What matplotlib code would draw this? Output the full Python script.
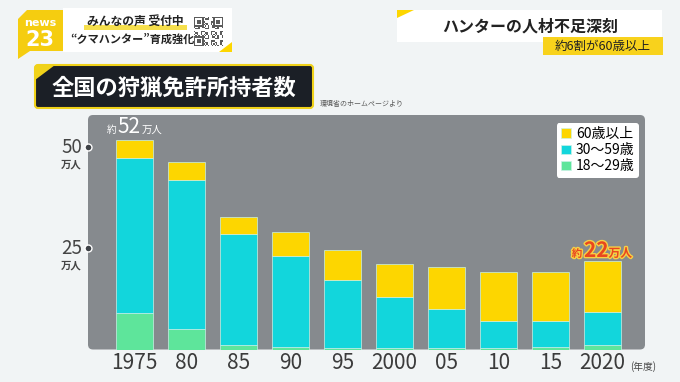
import numpy as np
import matplotlib.pyplot as plt
from matplotlib import transforms
from matplotlib.patches import FancyBboxPatch, Polygon, Rectangle
import matplotlib.patheffects as pe

plt.rcParams["font.family"] = ["Noto Sans CJK JP", "DejaVu Sans"]

# data (万人)
years = ["1975", "80", "85", "90", "95", "2000", "05", "10", "15", "2020"]
age_18_29 = [9.1, 5.0, 1.0, 0.5, 0.3, 0.3, 0.3, 0.4, 0.7, 1.0]
age_30_59 = [38.2, 36.9, 27.5, 22.6, 16.9, 12.6, 9.7, 6.6, 6.3, 8.2]
age_60_up = [4.6, 4.4, 4.2, 5.9, 7.5, 8.3, 10.5, 12.1, 12.1, 12.7]
series_labels = ["60歳以上", "30〜59歳", "18〜29歳"]
yticks = [25, 50]

green = "#5ee59b"
cyan = "#12d6dc"
yellow = "#fdd600"

fig = plt.figure(figsize=(6.8, 3.82), dpi=100)
fig.patch.set_facecolor("#f1f4f5")

# background layer in pixel coordinates
bg = fig.add_axes([0, 0, 1, 1])
bg.axis("off")

# gray chart panel
bg.add_patch(FancyBboxPatch((88, 115), 557, 234.5,
                            boxstyle="round,pad=0,rounding_size=5",
                            fc="#868a8e", ec="none"))

# left header
bg.add_patch(Rectangle((63, 8), 169, 44, fc="white", ec="none"))
bg.add_patch(Polygon([(232, 42), (232, 52), (219, 52)], fc=yellow, ec="none"))
bg.add_patch(Polygon([(18, 19), (27, 10), (63, 10), (63, 51), (30, 51), (18, 59)],
                     fc="#f5cd10", ec="none"))
bg.text(40, 23, "news", ha="center", va="center", fontsize=8, color="white",
        weight="bold", family="DejaVu Sans")
bg.text(40, 40, "23", ha="center", va="center", fontsize=15, color="white",
        weight="bold", family="DejaVu Sans")
bg.add_patch(Rectangle((84, 25), 103, 5, fc="#f6df4c", ec="none"))
bg.text(135, 22, "みんなの声 受付中", ha="center", va="center", fontsize=8.5,
        weight="bold", color="#222222")
bg.text(132, 39, "“クマハンター”育成強化", ha="center", va="center", fontsize=8,
        weight="bold", color="#222222")
# QR-like block
ii, jj = np.mgrid[0:21, 0:21]
qr = ((ii * 3 + jj * 5 + ii * jj) % 7 < 3).astype(float)
for r0, c0 in [(0, 0), (0, 14), (14, 0)]:
    qr[r0:r0 + 7, c0:c0 + 7] = 1
    qr[r0 + 1:r0 + 6, c0 + 1:c0 + 6] = 0
    qr[r0 + 2:r0 + 5, c0 + 2:c0 + 5] = 1
bg.imshow(qr, cmap="Greys", extent=(194, 223, 46, 17), aspect="auto",
          interpolation="nearest", vmin=0, vmax=1.4, zorder=3)

# right header
bg.add_patch(Rectangle((397, 10), 265, 32, fc="white", ec="none"))
bg.add_patch(Polygon([(397, 10), (414, 10), (397, 18)], fc=yellow, ec="none"))
bg.text(530, 27, "ハンターの人材不足深刻", ha="center", va="center", fontsize=11.5,
        weight="bold", color="#222222")
bg.add_patch(Rectangle((543, 37), 120, 18, fc="#f8d21c", ec="none"))
bg.text(603, 46.5, "約6割が60歳以上", ha="center", va="center", fontsize=9,
        color="#222222")

# title box
bg.add_patch(FancyBboxPatch((35, 65), 278, 43, boxstyle="round,pad=0,rounding_size=3",
                            fc="#1b1f26", ec="#f0d21a", lw=1.5))
bg.add_patch(Polygon([(35, 65), (55, 65), (35, 80)], fc="#f0d21a", ec="none"))
bg.text(52, 88, "全国の狩猟免許所持者数", ha="left", va="center", fontsize=16,
        weight="bold", color="white")
bg.text(320, 104, "環境省のホームページより", ha="left", va="center", fontsize=5,
        color="#555555")
bg.text(643, 367, "(年度)", ha="center", va="center", fontsize=7, color="#444444")

bg.set_xlim(0, 680)
bg.set_ylim(382, 0)

# bar chart
ax = fig.add_axes([88 / 680, (382 - 349.5) / 382, 557 / 680, 234.5 / 382])
ax.set_facecolor("none")
for s in ax.spines.values():
    s.set_visible(False)

x = np.arange(len(years))
g = np.array(age_18_29)
c = np.array(age_30_59)
y = np.array(age_60_up)
total = g + c + y
w = 0.71
edge = dict(edgecolor="#c9f2e6", linewidth=0.5)
b1 = ax.bar(x, g, w, color=green, **edge)
b2 = ax.bar(x, c, w, bottom=g, color=cyan, **edge)
b3 = ax.bar(x, y, w, bottom=g + c, color=yellow, **edge)

ax.set_xlim(-0.894, 9.817)
ax.set_ylim(0, 58.0)
ax.set_xticks(x)
ax.set_xticklabels(years, fontsize=15, color="#3b3b3b")
ax.tick_params(axis="x", length=0, pad=2)
ax.set_yticks([])

# y labels at the panel's left edge
trans = transforms.blended_transform_factory(bg.transData, ax.transData)
for yt in yticks:
    ax.text(82, yt, str(yt), transform=trans, ha="right", va="center",
            fontsize=13.5, color="#444444", clip_on=False)
    ax.annotate("万人", xy=(82, yt), xycoords=trans, xytext=(0, -17),
                textcoords="offset pixels", ha="right", va="center",
                fontsize=7.5, weight="bold", color="#444444")
    ax.plot([88], [yt], transform=trans, marker="o", ms=5, mfc="#3e4247",
            mec="white", mew=1, clip_on=False)

ax.legend([b3, b2, b1], series_labels, loc="upper right", bbox_to_anchor=(639, 123),
          bbox_transform=bg.transData, fontsize=10, frameon=True, fancybox=True,
          framealpha=1, facecolor="white", edgecolor="none", handlelength=0.7,
          handleheight=0.7, handletextpad=0.4, labelspacing=0.15, borderpad=0.3,
          borderaxespad=0)

# total annotations
first, last = 0, len(years) - 1
ax.annotate("約", xy=(first, total[first]), xytext=(-23, 6.5), textcoords="offset pixels",
            ha="center", va="baseline", fontsize=7, color="white")
ax.annotate("52", xy=(first, total[first]), xytext=(-17.5, 6.5), textcoords="offset pixels",
            ha="left", va="baseline", fontsize=15, color="white")
ax.annotate("万人", xy=(first, total[first]), xytext=(7, 6.5), textcoords="offset pixels",
            ha="left", va="baseline", fontsize=7.5, color="white")

stroke = [pe.withStroke(linewidth=2, foreground="#f6cf45")]
red = "#e9461e"
ax.annotate("約", xy=(last, total[last]), xytext=(-25.5, 4), textcoords="offset pixels",
            ha="center", va="baseline", fontsize=7.5, color=red, weight="bold",
            path_effects=stroke)
ax.annotate("22", xy=(last, total[last]), xytext=(-18.5, 4), textcoords="offset pixels",
            ha="left", va="baseline", fontsize=15, color=red, weight="bold",
            path_effects=stroke)
ax.annotate("万人", xy=(last, total[last]), xytext=(6, 4), textcoords="offset pixels",
            ha="left", va="baseline", fontsize=8.5, color=red, weight="bold",
            path_effects=stroke)

fig.savefig("out.png", dpi=100, facecolor=fig.get_facecolor())
